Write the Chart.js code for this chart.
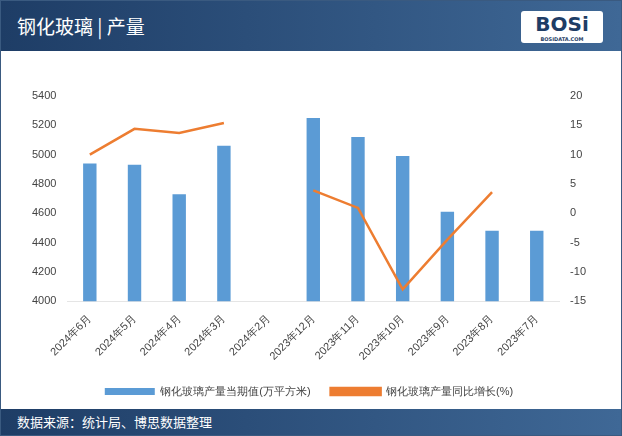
<!DOCTYPE html>
<html><head><meta charset="utf-8">
<script src="https://cdn.jsdelivr.net/npm/chart.js@4"></script>
<style>
body{margin:0;width:622px;height:436px;font-family:"Noto Sans CJK SC",sans-serif;background:#fff;overflow:hidden}
#wrap{position:absolute;left:0;top:0;width:620px;height:434px;border:1px solid #3a5a80;background:#fff}
#hd{position:absolute;left:0;top:0;width:620px;height:50px;background:linear-gradient(90deg,#1e3d66,#3f6896);color:#fff;font-size:19px;line-height:50px;padding-left:16px;box-sizing:border-box}
#logo{position:absolute;right:18px;top:10px;width:82px;height:32px;background:#fff;border-radius:3px;color:#1e3d66;font:bold 20px "DejaVu Sans";text-align:center;line-height:26px}
#logo small{position:absolute;left:0;right:0;bottom:1px;font-size:5px;line-height:6px}
#ft{position:absolute;left:0;bottom:0;width:620px;height:26px;background:linear-gradient(90deg,#1e3d66,#3f6896);color:#fff;font-size:13px;line-height:26px;padding-left:16px;box-sizing:border-box}
#c{position:absolute;left:8px;top:80px;width:590px;height:326px}
</style></head><body>
<div id="wrap">
<div id="hd">钢化玻璃 | 产量</div>
<div id="logo">BOSi<small>BOSIDATA.COM</small></div>
<div id="c"><canvas id="cv"></canvas></div>
<div id="ft">数据来源：统计局、博思数据整理</div>
</div>
<script>
const categories=["2024年6月","2024年5月","2024年4月","2024年3月","2024年2月","2023年12月","2023年11月","2023年10月","2023年9月","2023年8月","2023年7月"];
const outputValues=[4940,4930,4730,5060,null,5250,5120,4990,4610,4480,4480];
const growthValues=[10,14.4,13.7,15.4,null,3.9,0.9,-13,-4.5,3.6,null];
new Chart(document.getElementById('cv'),{
 data:{labels:categories,datasets:[
  {type:'bar',label:'钢化玻璃产量当期值(万平方米)',data:outputValues,backgroundColor:'#5b9bd5',barPercentage:0.3,categoryPercentage:1,yAxisID:'y',order:1},
  {type:'line',label:'钢化玻璃产量同比增长(%)',data:growthValues,borderColor:'#ed7d31',backgroundColor:'#ed7d31',borderWidth:2.5,pointRadius:0,yAxisID:'y1',spanGaps:false,order:0}
 ]},
 options:{responsive:true,maintainAspectRatio:false,animation:false,
  layout:{padding:{left:20,right:10,top:15}},
  plugins:{legend:{position:'bottom',labels:{boxWidth:50,boxHeight:7,font:{size:11},color:'#444',padding:20,sort:(a,b)=>a.datasetIndex-b.datasetIndex}}},
  scales:{
   x:{grid:{display:false},ticks:{maxRotation:45,minRotation:45,font:{size:11},color:'#444'}},
   y:{min:4000,max:5400,ticks:{stepSize:200,font:{size:11},color:'#444',callback:v=>String(v)},grid:{display:false},border:{display:false}},
   y1:{position:'right',min:-15,max:20,ticks:{stepSize:5,font:{size:11},color:'#444'},grid:{display:false},border:{display:false}}
  }}
});
</script>
</body></html>
